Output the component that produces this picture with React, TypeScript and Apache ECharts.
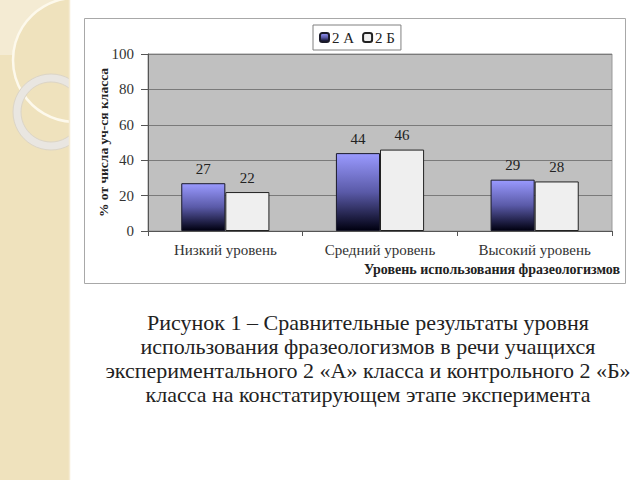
import React, { useEffect, useRef } from "react";
import * as echarts from "echarts";

const categories = ["Низкий уровень", "Средний уровень", "Высокий уровень"];
const seriesNames = ["2 А", "2 Б"];
const valuesA = [27, 44, 29];
const valuesB = [22, 46, 28];
const yTicks = { min: 0, max: 100, interval: 20 };
const yAxisTitle = "% от числа уч-ся класса";
const xAxisTitle = "Уровень использования фразеологизмов";
const captionLines = [
  "Рисунок 1 – Сравнительные результаты уровня",
  "использования фразеологизмов в речи учащихся",
  "экспериментального 2 «А» класса и контрольного 2 «Б»",
  "класса на констатирующем этапе эксперимента",
];

const SERIF = "Liberation Serif";

export default function App() {
  const ref = useRef<HTMLDivElement>(null);
  useEffect(() => {
    if (!ref.current) return;
    const chart = echarts.init(ref.current, undefined, { renderer: "svg" });
    const gradA = new echarts.graphic.LinearGradient(0, 0, 0, 1, [
      { offset: 0, color: "#9a9aff" },
      { offset: 0.5, color: "#5a5aa8" },
      { offset: 1, color: "#000010" },
    ]);
    const labelStyle = {
      show: true,
      position: "top" as const,
      distance: 7,
      fontFamily: SERIF,
      fontSize: 15,
      color: "#222",
    };
    const cornerPts: number[][] = [
      [0, 0], [59, 0], [38, 10], [28, 20], [21, 30], [16, 40], [14, 50], [13, 55], [0, 55],
    ];
    chart.setOption({
      animation: false,
      backgroundColor: "#ffffff",
      graphic: [
        { type: "rect", z: -10, shape: { x: 0, y: 0, width: 70, height: 480 }, style: { fill: "#efe2bd" } },
        { type: "polygon", z: -9, shape: { points: cornerPts }, style: { fill: "#f4ebd3" } },
        {
          type: "circle", z: -8,
          shape: { cx: 75, cy: 60, r: 62 },
          style: { stroke: "#fdf9ec", lineWidth: 2.5, fill: null },
        },
        {
          type: "circle", z: -7,
          shape: { cx: 51, cy: 112, r: 34 },
          style: { stroke: "#e9e6e1", lineWidth: 8, fill: null },
        },
        { type: "circle", z: -7, shape: { cx: 51, cy: 112, r: 30 }, style: { stroke: "#dcd5c6", lineWidth: 1, fill: null } },
        { type: "circle", z: -7, shape: { cx: 51, cy: 112, r: 38 }, style: { stroke: "#dcd5c6", lineWidth: 1, fill: null } },
        { type: "rect", z: -6, shape: { x: 70, y: 0, width: 570, height: 480 }, style: { fill: "#ffffff" } },
        { type: "line", z: -6, shape: { x1: 69.5, y1: 0, x2: 69.5, y2: 480 }, style: { stroke: "#f5ecd4", lineWidth: 1.5 } },
        {
          type: "rect", z: -5,
          shape: { x: 84.5, y: 18.5, width: 541, height: 265 },
          style: { fill: "#ffffff", stroke: "#a8a8a8", lineWidth: 1 },
        },
        {
          type: "text", z: 10,
          style: {
            x: 620, y: 269, text: xAxisTitle, align: "right", verticalAlign: "middle",
            fontFamily: SERIF, fontSize: 14, fontWeight: "bold", fill: "#222",
          },
        },
        ...captionLines.map((t, i) => ({
          type: "text", z: 10,
          style: {
            x: 368, y: 322 + i * 24, text: t, align: "center", verticalAlign: "middle",
            fontFamily: SERIF, fontSize: 22, fill: "#222",
          },
        })),
      ],
      legend: {
        data: seriesNames,
        left: 313,
        top: 25,
        itemWidth: 9,
        itemHeight: 9,
        itemGap: 8,
        padding: [5, 6, 5, 6],
        borderColor: "#808080",
        borderWidth: 1,
        backgroundColor: "#ffffff",
        textStyle: { fontFamily: SERIF, fontSize: 15, color: "#222", padding: [0, 0, 0, -2] },
      },
      grid: {
        left: 148, right: 28, top: 54, bottom: 249,
        show: true, backgroundColor: "#c0c0c0", borderColor: "#999", borderWidth: 1,
      },
      xAxis: {
        type: "category",
        data: categories,
        axisLine: { lineStyle: { color: "#555" } },
        axisTick: { show: true, alignWithLabel: false, length: 5, lineStyle: { color: "#555" } },
        axisLabel: { fontFamily: SERIF, fontSize: 15, color: "#333", margin: 11 },
      },
      yAxis: {
        type: "value",
        min: yTicks.min, max: yTicks.max, interval: yTicks.interval,
        name: yAxisTitle,
        nameLocation: "middle",
        nameRotate: 90,
        nameGap: 38,
        nameMoveOverlap: false,
        nameTextStyle: { fontFamily: SERIF, fontSize: 13.5, fontWeight: "bold", color: "#222" },
        axisLine: { show: true, lineStyle: { color: "#555" } },
        axisTick: { show: true, length: 7, lineStyle: { color: "#555" } },
        axisLabel: { fontFamily: SERIF, fontSize: 15, color: "#333", margin: 14 },
        splitLine: { lineStyle: { color: "#7a7a7a", width: 1 } },
      },
      series: [
        {
          name: seriesNames[0], type: "bar", data: valuesA,
          barGap: "0%", barCategoryGap: "43%",
          itemStyle: { color: gradA, borderColor: "#1a1a2a", borderWidth: 1 },
          label: labelStyle,
        },
        {
          name: seriesNames[1], type: "bar", data: valuesB,
          barGap: "0%", barCategoryGap: "43%",
          itemStyle: { color: "#efefef", borderColor: "#222", borderWidth: 1 },
          label: labelStyle,
        },
      ],
    });
    return () => chart.dispose();
  }, []);
  return (
    <div
      ref={ref}
      style={{ position: "absolute", left: 0, top: 0, width: 640, height: 480 }}
    />
  );
}
